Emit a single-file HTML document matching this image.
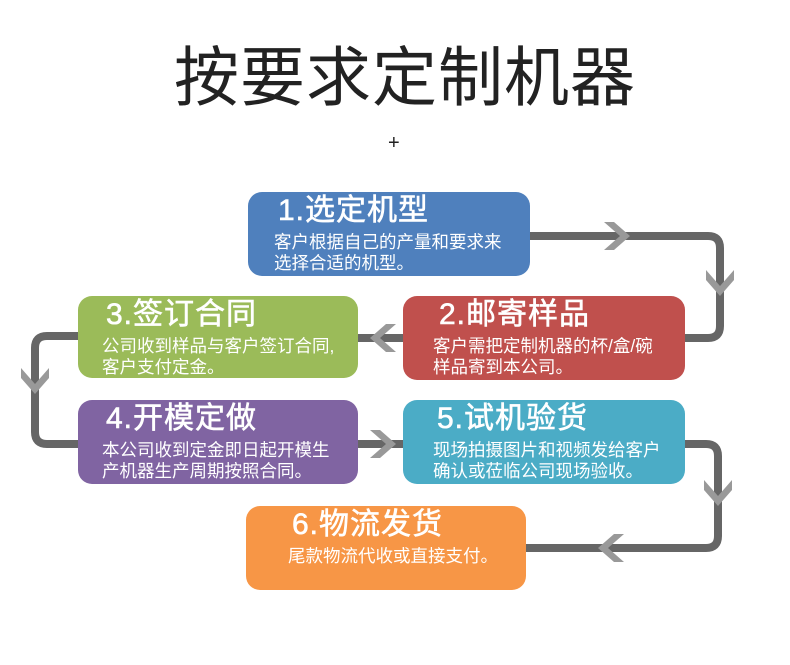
<!DOCTYPE html>
<html><head><meta charset="utf-8"><style>
body{margin:0;width:790px;height:665px;background:#fff;position:relative;overflow:hidden;font-family:"Liberation Sans","Noto Sans CJK SC",sans-serif}
.t{position:absolute;left:0;width:810px;top:36px;text-align:center;font-size:65px;color:#222;line-height:84px;letter-spacing:1px}
.p{position:absolute;left:388px;top:132px;font-size:20px;color:#222}
.b{position:absolute;border-radius:14px;color:#fff;box-sizing:border-box;padding-left:26px}
.b h{display:block;font-size:30px;line-height:34px;margin-top:2px;letter-spacing:1px;-webkit-text-stroke:0.6px #fff}
.b p{margin:4px 0 0;font-size:17.5px;line-height:21px}
svg{position:absolute;left:0;top:0}
</style></head><body>
<div class="t">按要求定制机器</div>
<div class="p">+</div>
<svg width="790" height="665">
<g fill="none" stroke="#666" stroke-width="8" stroke-linejoin="round">
<path d="M528 236 H708 Q720 236 720 248 V326 Q720 338 708 338 H684"/>
<path d="M405 338 H356"/>
<path d="M80 336 H47 Q35 336 35 348 V432 Q35 444 47 444 H80"/>
<path d="M356 444 H405"/>
<path d="M684 444 H706 Q718 444 718 456 V536 Q718 548 706 548 H524"/>
</g>
<g fill="#999">
<polygon points="604,222 620,236 604,250 614,250 630,236 614,222"/>
<polygon points="706,270 720,286 734,270 734,280 720,296 706,280"/>
<polygon points="396,324 380,338 396,352 386,352 370,338 386,324"/>
<polygon points="21,368 35,384 49,368 49,378 35,394 21,378"/>
<polygon points="370,430 386,444 370,458 380,458 396,444 380,430"/>
<polygon points="704,480 718,496 732,480 732,490 718,506 704,490"/>
<polygon points="624,534 608,548 624,562 614,562 598,548 614,534"/>
</g>
</svg>
<div class="b" style="left:248px;top:192px;width:282px;height:84px;background:#4f80bd"><h style="padding-left:4px">1.选定机型</h><p>客户根据自己的产量和要求来<br>选择合适的机型。</p></div>
<div class="b" style="left:403px;top:296px;width:282px;height:84px;background:#c0504d;padding-left:32px"><h style="padding-left:4px">2.邮寄样品</h><p style="margin-left:-2px">客户需把定制机器的杯/盒/碗<br>样品寄到本公司。</p></div>
<div class="b" style="left:78px;top:296px;width:280px;height:82px;background:#9bbb59;padding-left:24px"><h style="padding-left:4px">3.签订合同</h><p>公司收到样品与客户签订合同,<br>客户支付定金。</p></div>
<div class="b" style="left:78px;top:400px;width:280px;height:84px;background:#8064a2;padding-left:24px"><h style="padding-left:4px">4.开模定做</h><p>本公司收到定金即日起开模生<br>产机器生产周期按照合同。</p></div>
<div class="b" style="left:403px;top:400px;width:282px;height:84px;background:#4bacc6;padding-left:30px"><h style="padding-left:4px">5.试机验货</h><p>现场拍摄图片和视频发给客户<br>确认或莅临公司现场验收。</p></div>
<div class="b" style="left:246px;top:506px;width:280px;height:84px;background:#f79646;padding-left:42px"><h style="padding-left:4px">6.物流发货</h><p>尾款物流代收或直接支付。</p></div>
</body></html>
